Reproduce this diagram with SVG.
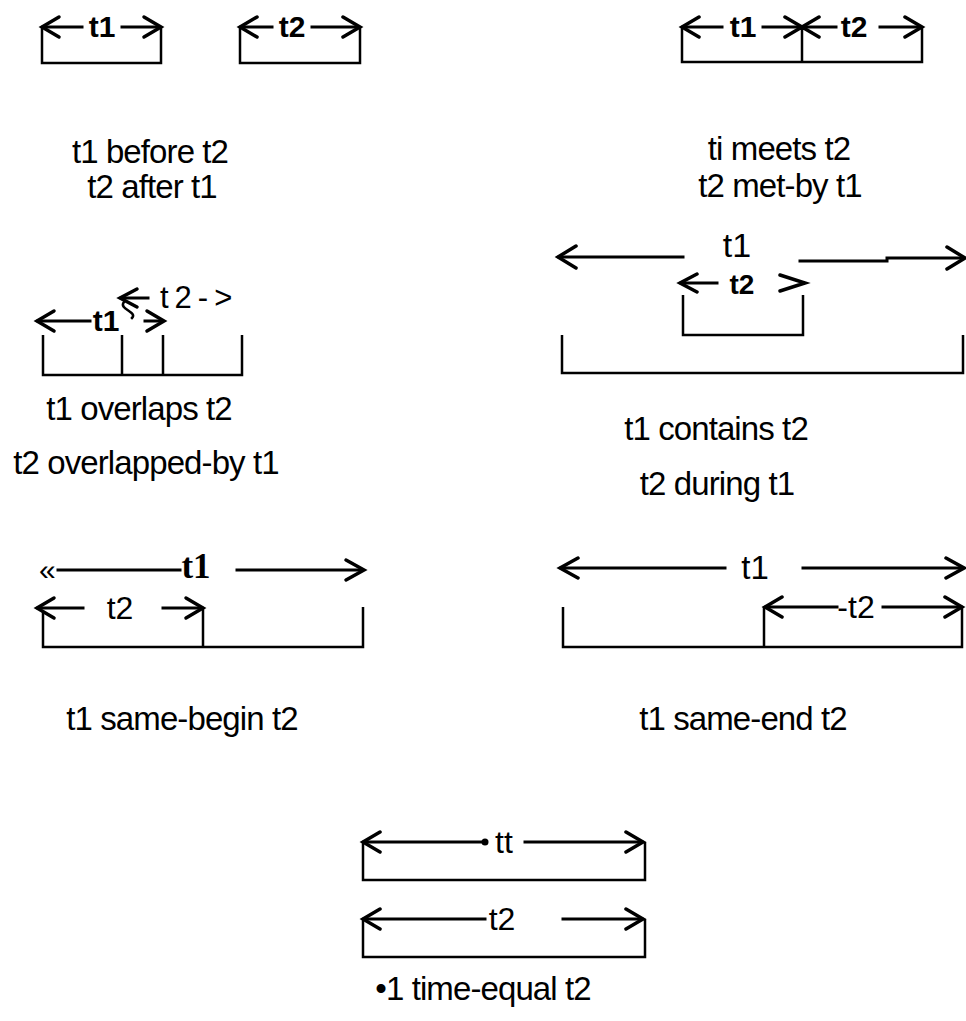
<svg xmlns="http://www.w3.org/2000/svg" width="966" height="1021" viewBox="0 0 966 1021">
<style>
.ln{fill:none;stroke:#000;stroke-width:3;stroke-linecap:square}
.br{fill:none;stroke:#000;stroke-width:2.5}
.hd{fill:none;stroke:#000;stroke-width:3.5;stroke-linejoin:miter;stroke-linecap:round}
.cap{font-family:"Liberation Sans",Arial,sans-serif;font-size:33px;letter-spacing:-0.9px;fill:#000;text-anchor:middle}
.lb{font-family:"Liberation Sans",Arial,sans-serif;font-size:30px;font-weight:bold;fill:#000;text-anchor:middle}
.lr{font-family:"Liberation Sans",Arial,sans-serif;font-size:32px;fill:#000;text-anchor:middle}
</style>
<rect width="966" height="1021" fill="#fff"/>

<g id="before">
  <path class="br" d="M42,27 V63 H161 V27"/>
  <path class="br" d="M240,27 V63 H360 V27"/>
  <g class="connectors">
    <path class="ln" d="M43,27 H82 M122,27 H159"/>
    <path class="hd" d="M59,17 L42,27 L59,37 M144,17 L161,27 L144,37"/>
    <path class="ln" d="M241,27 H272 M312,27 H358"/>
    <path class="hd" d="M257,17 L240,27 L257,37 M343,17 L360,27 L343,37"/>
  </g>
  <text class="lb" x="102" y="37">t1</text>
  <text class="lb" x="292" y="37">t2</text>
  <text class="cap" x="150" y="163">t1 before t2</text>
  <text class="cap" x="152" y="198">t2 after t1</text>
</g>

<g id="meets">
  <path class="br" d="M682,27 V62 H922 V27 M802,27 V62"/>
  <g class="connectors">
    <path class="ln" d="M683,27 H722 M763,27 H800 M804,27 H836 M880,27 H920"/>
    <path class="hd" d="M699,17 L682,27 L699,37 M785,17 L802,27 L785,37 M819,17 L802,27 L819,37 M905,17 L922,27 L905,37"/>
  </g>
  <text class="lb" x="743" y="37">t1</text>
  <text class="lb" x="854" y="37">t2</text>
  <text class="cap" x="779" y="160">ti meets t2</text>
  <text class="cap" x="780" y="197">t2 met-by t1</text>
</g>

<g id="overlaps">
  <path class="br" d="M43,335 V375 H242 V335 M122,335 V375 M163,335 V375"/>
  <g class="connectors">
    <path class="ln" d="M38,321 H90 M145,321 H162"/>
    <path class="hd" d="M54,311 L37,321 L54,331 M147,311 L164,321 L147,331"/>
    <path class="ln" d="M121,298 H148"/>
    <path class="hd" d="M137,289 L120,298 L137,307"/>
    <path class="ln" d="M124,302 C118,309 138,312 132,318" style="stroke-width:2.5"/>
  </g>
  <text class="lb" x="106" y="331">t1</text>
  <text x="160" y="308" style="font-family:'Liberation Sans',Arial,sans-serif;font-size:31px;letter-spacing:6px">t2-&gt;</text>
  <text class="cap" x="139" y="420">t1 overlaps t2</text>
  <text class="cap" x="146" y="474">t2 overlapped-by t1</text>
</g>

<g id="contains">
  <path class="br" d="M683,295 V335 H803 V295"/>
  <path class="br" d="M562,335 V373 H963 V335"/>
  <g class="connectors">
    <path class="ln" d="M559,257 H683 M800,261 H887 M887,258 H962"/>
    <path class="hd" d="M576,246 L558,257 L576,268 M947,247 L965,258 L947,269"/>
    <path class="ln" d="M681,283 H717"/>
    <path class="hd" d="M697,274 L680,283 L697,292 M780,275 L805,283 L780,291"/>
  </g>
  <text class="lr" x="737" y="257" style="font-size:34px">t1</text>
  <text class="lb" x="742" y="294" style="font-size:28px">t2</text>
  <text class="cap" x="716" y="440">t1 contains t2</text>
  <text class="cap" x="717" y="495">t2 during t1</text>
</g>

<g id="same-begin">
  <path class="br" d="M43,612 V647 H363 V607 M203,608 V647"/>
  <g class="connectors">
    <path class="ln" d="M58,570 H180 M237,570 H362"/>
    <path class="hd" d="M346,560 L364,570 L346,580"/>
    <path class="ln" d="M38,608 H83 M163,608 H202"/>
    <path class="hd" d="M54,598 L37,608 L54,618 M186,598 L203,608 L186,618"/>
  </g>
  <text x="39" y="580" style="font-family:'Liberation Sans',Arial,sans-serif;font-size:30px">«</text>
  <text x="196" y="578" style="font-family:'Liberation Serif','Times New Roman',serif;font-size:35px;font-weight:bold;text-anchor:middle">t1</text>
  <text class="lr" x="120" y="619">t2</text>
  <text class="cap" x="182" y="730">t1 same-begin t2</text>
</g>

<g id="same-end">
  <path class="br" d="M563,607 V647 H962 V607 M764,607 V647"/>
  <g class="connectors">
    <path class="ln" d="M561,568 H725 M803,568 H962"/>
    <path class="hd" d="M578,558 L560,568 L578,578 M946,558 L964,568 L946,578"/>
    <path class="ln" d="M766,607 H837 M883,607 H961"/>
    <path class="hd" d="M782,597 L765,607 L782,617 M945,597 L962,607 L945,617"/>
  </g>
  <text class="lr" x="755" y="579" style="font-size:33px">t1</text>
  <text class="lr" x="856" y="618">-t2</text>
  <text class="cap" x="743" y="730">t1 same-end t2</text>
</g>

<g id="time-equal">
  <path class="br" d="M363,842 V880 H645 V842"/>
  <path class="br" d="M363,919 V957 H645 V919"/>
  <g class="connectors">
    <path class="ln" d="M364,842 H482 M525,842 H642"/>
    <path class="hd" d="M380,832 L363,842 L380,852 M626,832 L643,842 L626,852"/>
    <circle cx="485" cy="842" r="3.5" fill="#000"/>
    <path class="ln" d="M364,919 H485 M563,919 H642"/>
    <path class="hd" d="M380,909 L363,919 L380,929 M626,909 L643,919 L626,929"/>
  </g>
  <text class="lr" x="504" y="853">tt</text>
  <text class="lr" x="502" y="930">t2</text>
  <text class="cap" x="483" y="1000">•1 time-equal t2</text>
</g>
</svg>
